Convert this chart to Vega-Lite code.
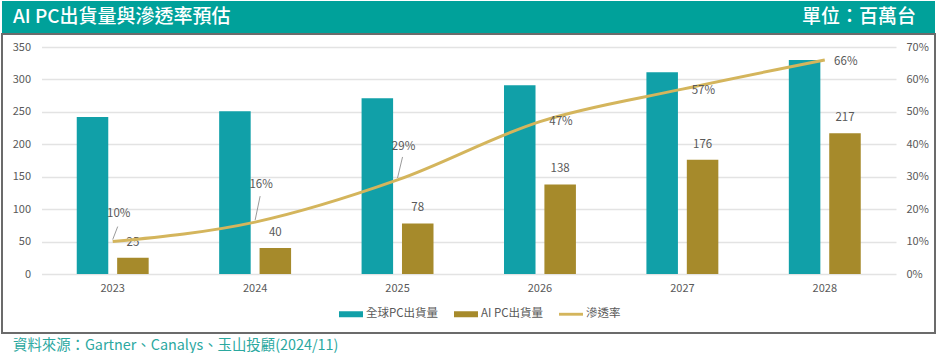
{
  "$schema": "https://vega.github.io/schema/vega-lite/v6.json",
  "padding": {"left": 1, "top": 1, "right": 2, "bottom": 0},
  "background": "white",
  "spacing": 0,
  "config": {"font": "Noto Sans CJK TC", "view": {"stroke": null}},
  "title": {
    "text": "資料來源：Gartner、Canalys、玉山投顧(2024/11)",
    "orient": "bottom", "anchor": "start", "fontSize": 14.4, "fontWeight": "normal",
    "color": "#2BA89F", "offset": 5, "dx": 12
  },
  "datasets": {
    "ship": [
      {"year": "2023", "series": "全球PC出貨量", "value": 242},
      {"year": "2023", "series": "AI PC出貨量", "value": 25},
      {"year": "2024", "series": "全球PC出貨量", "value": 251},
      {"year": "2024", "series": "AI PC出貨量", "value": 40},
      {"year": "2025", "series": "全球PC出貨量", "value": 271},
      {"year": "2025", "series": "AI PC出貨量", "value": 78},
      {"year": "2026", "series": "全球PC出貨量", "value": 291},
      {"year": "2026", "series": "AI PC出貨量", "value": 138},
      {"year": "2027", "series": "全球PC出貨量", "value": 311},
      {"year": "2027", "series": "AI PC出貨量", "value": 176},
      {"year": "2028", "series": "全球PC出貨量", "value": 330},
      {"year": "2028", "series": "AI PC出貨量", "value": 217}
    ],
    "rate": [
      {"year": "2023", "rate": 0.10},
      {"year": "2024", "rate": 0.16},
      {"year": "2025", "rate": 0.29},
      {"year": "2026", "rate": 0.47},
      {"year": "2027", "rate": 0.57},
      {"year": "2028", "rate": 0.66}
    ]
  },
  "vconcat": [
    {
      "width": 933,
      "height": 32,
      "view": {"fill": "#00A19A", "stroke": null},
      "data": {"values": [
        {"side": "L", "label": "AI PC出貨量與滲透率預估"},
        {"side": "R", "label": "單位：百萬台"}
      ]},
      "mark": {
        "type": "text", "color": "white", "fontSize": 19, "fontWeight": 500, "baseline": "middle",
        "align": {"expr": "datum.side === 'L' ? 'left' : 'right'"},
        "dx": {"expr": "datum.side === 'L' ? 11 : -19"}
      },
      "encoding": {
        "x": {"field": "side", "type": "nominal", "scale": {"type": "point", "domain": ["L", "R"], "padding": 0}, "axis": null},
        "text": {"field": "label"}
      }
    },
    {
      "width": 933,
      "height": 299,
      "view": {"stroke": "#6b6b6b", "strokeWidth": 2},
      "layer": [
        {
          "data": {"name": "ship"},
          "layer": [
            {
              "mark": {"type": "bar"},
              "encoding": {
                "x": {
                  "field": "year", "type": "nominal", "title": null,
                  "scale": {"range": [39.5, 894], "paddingInner": 0.495, "paddingOuter": 0.2475},
                  "axis": {"orient": "bottom", "offset": -59, "labelAngle": 0, "labelFontSize": 11, "labelColor": "#595959", "labelPadding": 8, "domain": false, "ticks": false, "grid": false}
                },
                "xOffset": {"field": "series", "type": "nominal", "scale": {"domain": ["全球PC出貨量", "AI PC出貨量"], "paddingInner": 0.22}},
                "y": {
                  "field": "value", "type": "quantitative", "title": null,
                  "scale": {"domain": [0, 350], "range": [240, 13], "nice": false},
                  "axis": {"orient": "left", "offset": -39.5, "values": [0, 50, 100, 150, 200, 250, 300, 350], "labelFontSize": 11, "labelColor": "#595959", "labelPadding": 11, "domain": false, "ticks": false, "grid": true, "gridColor": "#E3E3E3", "gridWidth": 1.5}
                },
                "color": {
                  "field": "series", "type": "nominal",
                  "scale": {"domain": ["全球PC出貨量", "AI PC出貨量", "滲透率"], "range": ["#11A0A8", "#A68A2B", "#D4B55C"]},
                  "legend": {
                    "orient": "none", "legendX": 337, "legendY": 301, "direction": "horizontal", "title": null,
                    "labelFontSize": 11.5, "labelColor": "#595959", "columnPadding": 15, "symbolSize": 576, "labelOffset": 3,
                    "symbolStrokeWidth": 0,
                    "encode": {"symbols": {"update": {
                      "shape": {"signal": "datum.value === '滲透率' ? 'M-1,-0.12H1V0.12H-1Z' : 'M-1,-0.25H1V0.25H-1Z'"},
                      "fill": {"signal": "scale('color', datum.value)"},
                      "strokeWidth": {"value": 0}
                    }}}
                  }
                }
              }
            },
            {
              "transform": [{"filter": "datum.series === 'AI PC出貨量'"}],
              "mark": {"type": "text", "baseline": "middle", "dy": -15, "fontSize": 11.5, "color": "#595959"},
              "encoding": {
                "x": {"field": "year", "type": "nominal", "title": null},
                "xOffset": {"field": "series", "type": "nominal"},
                "y": {"field": "value", "type": "quantitative", "title": null},
                "text": {"field": "value"}
              }
            }
          ]
        },
        {
          "data": {"name": "rate"},
          "layer": [
            {
              "mark": {"type": "line", "interpolate": "monotone", "strokeWidth": 3},
              "encoding": {
                "x": {"field": "year", "type": "nominal", "title": null},
                "y": {
                  "field": "rate", "type": "quantitative", "title": null,
                  "scale": {"domain": [0, 0.7], "range": [240, 13], "nice": false},
                  "axis": {"orient": "right", "offset": -39, "format": ".0%", "values": [0, 0.1, 0.2, 0.3, 0.4, 0.5, 0.6, 0.7], "labelFontSize": 11, "labelColor": "#595959", "labelPadding": 10, "domain": false, "ticks": false, "grid": false}
                },
                "color": {"datum": "滲透率", "type": "nominal"}
              }
            },
            {
              "transform": [{"filter": "datum.rate < 0.4"}],
              "mark": {"type": "rule", "color": "#808080", "strokeWidth": 0.8, "yOffset": -2, "x2Offset": 5,
                "y2Offset": {"expr": "datum.rate < 0.12 ? -15 : datum.rate < 0.2 ? -26 : -23"}},
              "encoding": {
                "x": {"field": "year", "type": "nominal", "title": null},
                "x2": {"field": "year"},
                "y": {"field": "rate", "type": "quantitative", "title": null},
                "y2": {"field": "rate"}
              }
            },
            {
              "mark": {"type": "text", "fontSize": 11.5, "color": "#595959", "baseline": "middle",
                "dx": {"expr": "datum.rate < 0.4 ? 6 : 21"},
                "dy": {"expr": "datum.rate < 0.12 ? -28 : datum.rate < 0.2 ? -37 : datum.rate < 0.4 ? -33 : datum.rate < 0.5 ? 0 : 2"}},
              "encoding": {
                "x": {"field": "year", "type": "nominal", "title": null},
                "y": {"field": "rate", "type": "quantitative", "title": null},
                "text": {"field": "rate", "format": ".0%"}
              }
            }
          ]
        }
      ],
      "resolve": {"scale": {"y": "independent"}}
    }
  ]
}
